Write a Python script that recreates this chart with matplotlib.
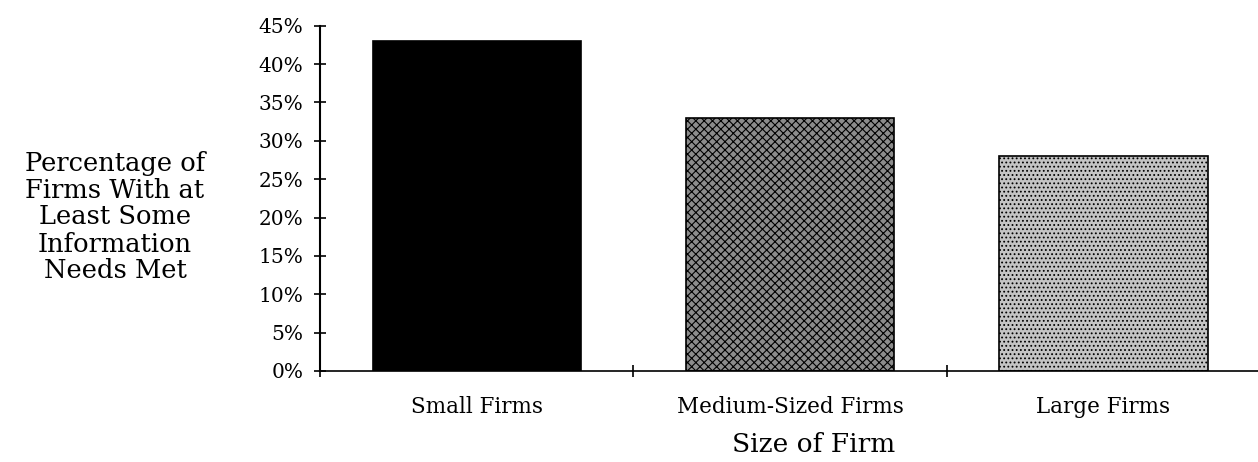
import matplotlib
matplotlib.use("Agg")
import matplotlib.pyplot as plt
import numpy as np

# data
categories = ["Small Firms", "Medium-Sized Firms", "Large Firms"]
values = [43, 33, 28]
ytick_vals = [0, 5, 10, 15, 20, 25, 30, 35, 40, 45]

plt.rcParams['font.family'] = ['DejaVu Serif']
plt.rcParams['hatch.linewidth'] = 0.8

fig = plt.figure(figsize=(12.58, 4.62), dpi=100)
ax = fig.add_axes([0.2544, 0.197, 0.7473, 0.7473])

x = np.arange(len(categories)) + 0.5
styles = [
    dict(color="black", edgecolor="black"),
    dict(color="#8c8c8c", edgecolor="black", hatch="xxxx"),
    dict(color="#c4c4c4", edgecolor="black", hatch="...."),
]
for xi, v, st in zip(x, values, styles):
    ax.bar(xi, v, width=0.665, linewidth=1.2, **st)

ax.set_xlim(0, 3)
ax.set_ylim(0, 45)
for s in ["top", "right"]:
    ax.spines[s].set_visible(False)
ax.spines["left"].set_linewidth(1.5)
ax.spines["bottom"].set_linewidth(1.2)

ax.set_yticks(ytick_vals)
ax.set_yticklabels([f"{t}%" for t in ytick_vals], fontsize=14.5)
ax.tick_params(axis="y", direction="inout", length=8, width=1.2, pad=8)

ax.set_xticks([0, 1, 2, 3])
ax.set_xticklabels([])
ax.set_xticks(x, minor=True)
ax.set_xticklabels(categories, minor=True, fontsize=15.5)
ax.tick_params(axis="x", which="major", direction="inout", length=9, width=1.2)
ax.tick_params(axis="x", which="minor", length=0, pad=18)

fig.text(814 / 1258, (462 - 445) / 462, "Size of Firm", ha="center", va="center", fontsize=19)
fig.text(115 / 1258, (462 - 217) / 462,
         "Percentage of\nFirms With at\nLeast Some\nInformation\nNeeds Met",
         ha="center", va="center", multialignment="center", fontsize=18.5, linespacing=1.1)

fig.savefig("out.png", dpi=100)
